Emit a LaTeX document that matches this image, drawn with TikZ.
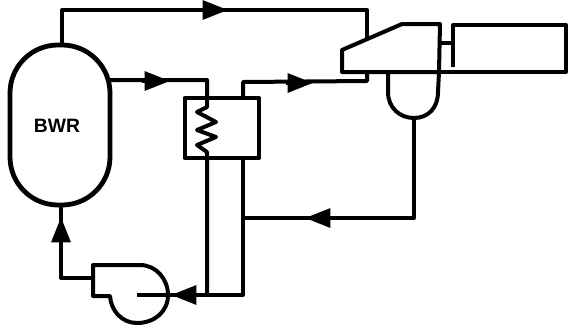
\documentclass[tikz,border=0pt]{standalone}
\usepackage{fontspec}
\setmainfont{Liberation Sans}
\usetikzlibrary{arrows.meta}
\tikzset{
  pipe/.style={line width=3pt,line join=round},
  flowtip/.style={line width=3pt,-{Triangle[length=19pt,width=14pt]}},
}
\begin{document}
\begin{tikzpicture}[x=0.75pt,y=-0.75pt]
  \useasboundingbox (0,0) rectangle (568,326);
  % reactor vessel, exchanger, generator
  \node[pipe,line width=3.6pt,draw,rounded corners=36pt,minimum width=75pt,minimum height=120pt,inner sep=0pt] (bwr) at (60,125) {};
  \node[font=\bfseries\fontsize{14.5}{14.5}\selectfont,inner sep=0pt] (bwrlabel) at (57,126) {BWR};
  \node[pipe,draw,minimum width=56pt,minimum height=45pt,inner sep=0pt] (hx) at (222,128) {};
  \coordinate (gentl) at (453,25);
  \coordinate (genbl) at (453,67);
  \coordinate (gentr) at (566,25);
  \coordinate (genbr) at (566,72);
  % turbine
  \coordinate (turba) at (342,72);
  \coordinate (turbb) at (342,50);
  \coordinate (turbc) at (402,24);
  \coordinate (turbd) at (440,24);
  \coordinate (turbe) at (439,72);
  \draw[pipe] (turba) -- (turbb) -- (turbc) -- (turbd) -- (turbe) -- cycle;
  \draw[pipe] (genbl) -- (gentl) -- (gentr) -- (genbr) -- (turbe);
  \draw[pipe] (440,43) -- (453,43);
  % condenser
  \coordinate (condl) at (388,72);
  \coordinate (condb) at (414,118);
  \draw[pipe] (condl) -- (388,92) .. controls (388,108) and (400,118) .. (condb) .. controls (428,118) and (438,108) .. (438,92) -- (turbe);
  % steam lines
  \coordinate (steamtop) at (62,10);
  \draw[pipe] (bwr.north -| steamtop) -- (steamtop) -- (367,10) -- (367,39);
  \draw[pipe] (109,80) -- (207,80) -- (207,107) -- (197,112) -- (216,122) -- (197,130) -- (216,137) -- (197,145) -- (207,152) -- (207,295);
  \draw[pipe] (243,97) -- (243,82) -- (367,81) -- (367,72);
  \draw[pipe] (243,159) -- (243,295) -- (137,295);
  \draw[pipe] (condb) -- (414,218) -- (243,218);
  % pump
  \coordinate (pumptl) at (93,265);
  \coordinate (pumpbl) at (93,296);
  \draw[pipe] (pumpbl) -- (pumptl) -- (140,265) .. controls (156,265) and (168,279) .. (168,295) .. controls (168,312) and (154,323) .. (137,323) .. controls (122,323) and (111,311) .. (110,296) -- cycle;
  \draw[pipe] (pumptl |- 0,278) -- (61,278) -- (61,206);
  % flow arrows
  \draw[flowtip] (203,10) -- (228,10);
  \draw[flowtip] (142,81) -- (170,81);
  \draw[flowtip] (286,83) -- (313,83);
  \draw[flowtip] (332,218) -- (305,218);
  \draw[flowtip] (200,295) -- (171,295);
  \draw[flowtip] (61,245) -- (61,217);
\end{tikzpicture}
\end{document}
